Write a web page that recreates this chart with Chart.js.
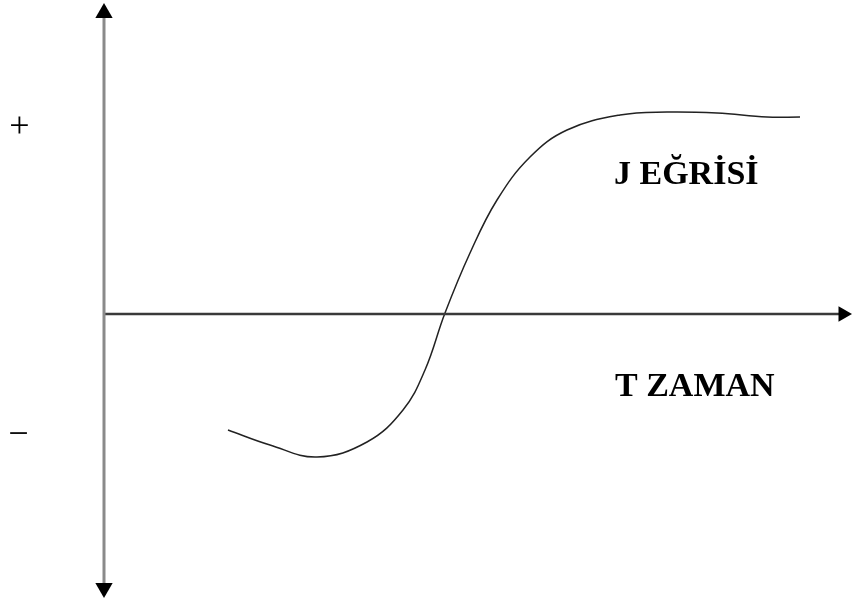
<!DOCTYPE html>
<html>
<head>
<meta charset="utf-8">
<script src="https://cdn.jsdelivr.net/npm/chart.js@4/dist/chart.umd.min.js"></script>
<style>
  html, body { margin: 0; padding: 0; background: #fff; }
  #c { display: block; }
</style>
</head>
<body>
<canvas id="c" width="853" height="605"></canvas>
<script>
// ---- data (time vs. trade balance, J curve) ----
const time    = [1.24, 1.66, 2.13, 2.63, 2.99, 3.21, 3.41, 3.66, 3.93, 4.26, 4.63, 5.16, 5.63, 6.13, 6.63, 6.96];
const balance = [-1.16, -1.31, -1.43, -1.28, -0.96, -0.56, 0.01, 0.61, 1.14, 1.57, 1.84, 1.99, 2.02, 2.01, 1.97, 1.97];

// axis extents (value units)
const xRange = [-1.04, 7.49];
const yRange = [-2.91, 3.14];
const yAxisEnds = [-2.74, 3.01];   // vertical axis, bottom to top
const xAxisEnds = [0, 7.39];       // horizontal axis, origin to right

// text labels
const plusLabel  = '+';
const minusLabel = '\u2212';
const curveLabel = 'J EĞRİSİ';
const timeLabel  = 'T ZAMAN';

const labelPlugin = {
  id: 'labels',
  afterDatasetsDraw(chart) {
    const { ctx, scales: { x, y } } = chart;
    ctx.save();
    ctx.fillStyle = '#000';
    ctx.textBaseline = 'middle';
    ctx.textAlign = 'center';
    ctx.font = '36px "Liberation Serif"';
    ctx.fillText(plusLabel, x.getPixelForValue(-0.845), y.getPixelForValue(1.86));
    ctx.fillText(minusLabel, x.getPixelForValue(-0.855), y.getPixelForValue(-1.22));
    ctx.textBaseline = 'alphabetic';
    ctx.textAlign = 'left';
    ctx.font = 'bold 34px "Liberation Serif"';
    ctx.fillText(curveLabel, x.getPixelForValue(5.10), y.getPixelForValue(1.30));
    ctx.fillText(timeLabel, x.getPixelForValue(5.11), y.getPixelForValue(-0.82));
    ctx.restore();
  }
};

new Chart(document.getElementById('c'), {
  type: 'line',
  data: {
    datasets: [
      {
        label: 'y axis',
        data: [{ x: 0, y: yAxisEnds[0] }, { x: 0, y: yAxisEnds[1] }],
        borderColor: '#8a8a8a',
        borderWidth: 3,
        pointStyle: 'triangle',
        pointRadius: 10,
        pointRotation: [180, 0],
        pointBackgroundColor: '#000',
        pointBorderColor: '#000',
        pointBorderWidth: 0,
        clip: false
      },
      {
        label: 'x axis',
        data: [{ x: xAxisEnds[0], y: 0 }, { x: xAxisEnds[1], y: 0 }],
        borderColor: '#3a3a3a',
        borderWidth: 2.5,
        pointStyle: 'triangle',
        pointRadius: [0, 9],
        pointRotation: 90,
        pointBackgroundColor: '#000',
        pointBorderColor: '#000',
        pointBorderWidth: 0,
        clip: false
      },
      {
        label: 'J curve',
        data: time.map((t, i) => ({ x: t, y: balance[i] })),
        borderColor: '#222',
        borderWidth: 1.5,
        pointRadius: 0,
        tension: 0.4,
        clip: false
      }
    ]
  },
  options: {
    responsive: false,
    animation: false,
    devicePixelRatio: 1,
    layout: { padding: 0, autoPadding: false },
    plugins: { legend: { display: false }, tooltip: { enabled: false } },
    scales: {
      x: { type: 'linear', min: xRange[0], max: xRange[1], display: false },
      y: { type: 'linear', min: yRange[0], max: yRange[1], display: false }
    }
  },
  plugins: [labelPlugin]
});
</script>
</body>
</html>
